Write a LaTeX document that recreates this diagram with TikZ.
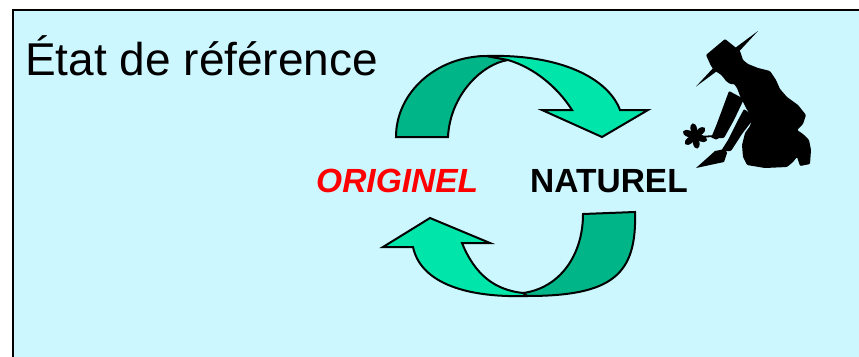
\documentclass[tikz,border=0pt]{standalone}
\usepackage{fontspec}
\setmainfont{Liberation Sans}
\definecolor{bgc}{RGB}{204,247,255}
\definecolor{darkarrow}{RGB}{0,182,136}
\definecolor{lightarrow}{RGB}{0,230,170}
\begin{document}
\begin{tikzpicture}[x=1pt,y=-1pt,
  darkpart/.style={fill=darkarrow, draw=black, line width=2pt, line join=miter},
  lightpart/.style={fill=lightarrow, draw=black, line width=2pt, line join=miter},
  silhouette/.style={fill=black, rounded corners=1pt},
  titletext/.style={anchor=base west, inner sep=0pt, font=\fontsize{46}{52}\selectfont},
  labeltext/.style={anchor=base west, inner sep=0pt, font=\fontsize{33.5}{38}\selectfont\bfseries}]
\useasboundingbox (0,0) rectangle (859,356);
\clip (0,0) rectangle (859,356);
\fill[white] (0,0) rectangle (859,356);
\draw[line width=2.6pt, fill=bgc] (13,10) rectangle (900,400);

% title and labels
\node[titletext] (title) at (25,75) {État de référence};
\node[labeltext, text=red, font=\fontsize{33.5}{38}\selectfont\bfseries\itshape] (originel) at (316,192) {ORIGINEL};
\node[labeltext] (naturel) at (530,192) {NATUREL};

% top curved arrow
\filldraw[darkpart] (396,137) .. controls (396,92) and (437,56) .. (487,56) -- (508,60)
  .. controls (482,64) and (450,95) .. (448,137) -- cycle;
\filldraw[lightpart] (487,56) .. controls (560,54) and (608,78) .. (620,110) -- (648,110)
  -- (602,137) -- (542,110) -- (572,110) .. controls (558,88) and (535,68) .. (508,60) -- cycle;

% bottom curved arrow
\filldraw[darkpart] (583,214) -- (635,212) .. controls (637,275) and (612,296) .. (527,296)
  -- (523,293) .. controls (560,288) and (583,255) .. (583,214) -- cycle;
\filldraw[lightpart] (527,296) .. controls (460,298) and (420,280) .. (413,247) -- (383,247)
  -- (430,218) -- (490,243) -- (462,243) .. controls (475,275) and (495,290) .. (523,293) -- cycle;

% gardener silhouette
\fill[silhouette] (706,55) -- (725,39) -- (740,51) -- (743,60) -- (748,64) -- (758,68)
  -- (770,71) -- (776,80) -- (780,89) -- (787,97) -- (798,105) -- (806,115) -- (803,124)
  -- (797,130) -- (803,134) -- (809,140) -- (811,150) -- (810,164) -- (800,166) -- (797,157)
  -- (793,162) -- (787,167) -- (765,168) -- (747,165) -- (743,157) -- (742,145) -- (745,133)
  -- (750,126) -- (752,118) -- (746,108) -- (740,96) -- (737,88) -- (734,84) -- (730,84)
  -- (726,81) -- (723,77) -- (720,74) -- (715,71) -- (711,66) -- cycle;
\fill[black] (696,86.5) -- (724.3,56) -- (758,31) -- (729.3,62) -- cycle;
% arm holding the flower
\fill[silhouette] (729,91) -- (744,99) -- (734,120) -- (724,138) -- (711,138) -- (716,126)
  -- (722,110) -- cycle;
\fill[black] (716,136) circle [radius=3.5pt];
% arm holding the trowel
\fill[silhouette] (744,109) -- (755,117) -- (742,134) -- (731,151) -- (721,151) -- (728,140)
  -- (737,122) -- cycle;
% trowel
\fill[black] (696,168) -- (715,151) -- (725,149) -- (727,153) -- (724,162) -- cycle;
% flower
\draw[line width=1.8pt] (699,137) -- (714,136);
\foreach \a in {10,70,...,310}
  \fill[black, rotate around={\a:(695,136)}] (695,129) ellipse [x radius=3.3pt, y radius=5.8pt];
\fill[black] (695,136) circle [radius=3.5pt];
\end{tikzpicture}
\end{document}
